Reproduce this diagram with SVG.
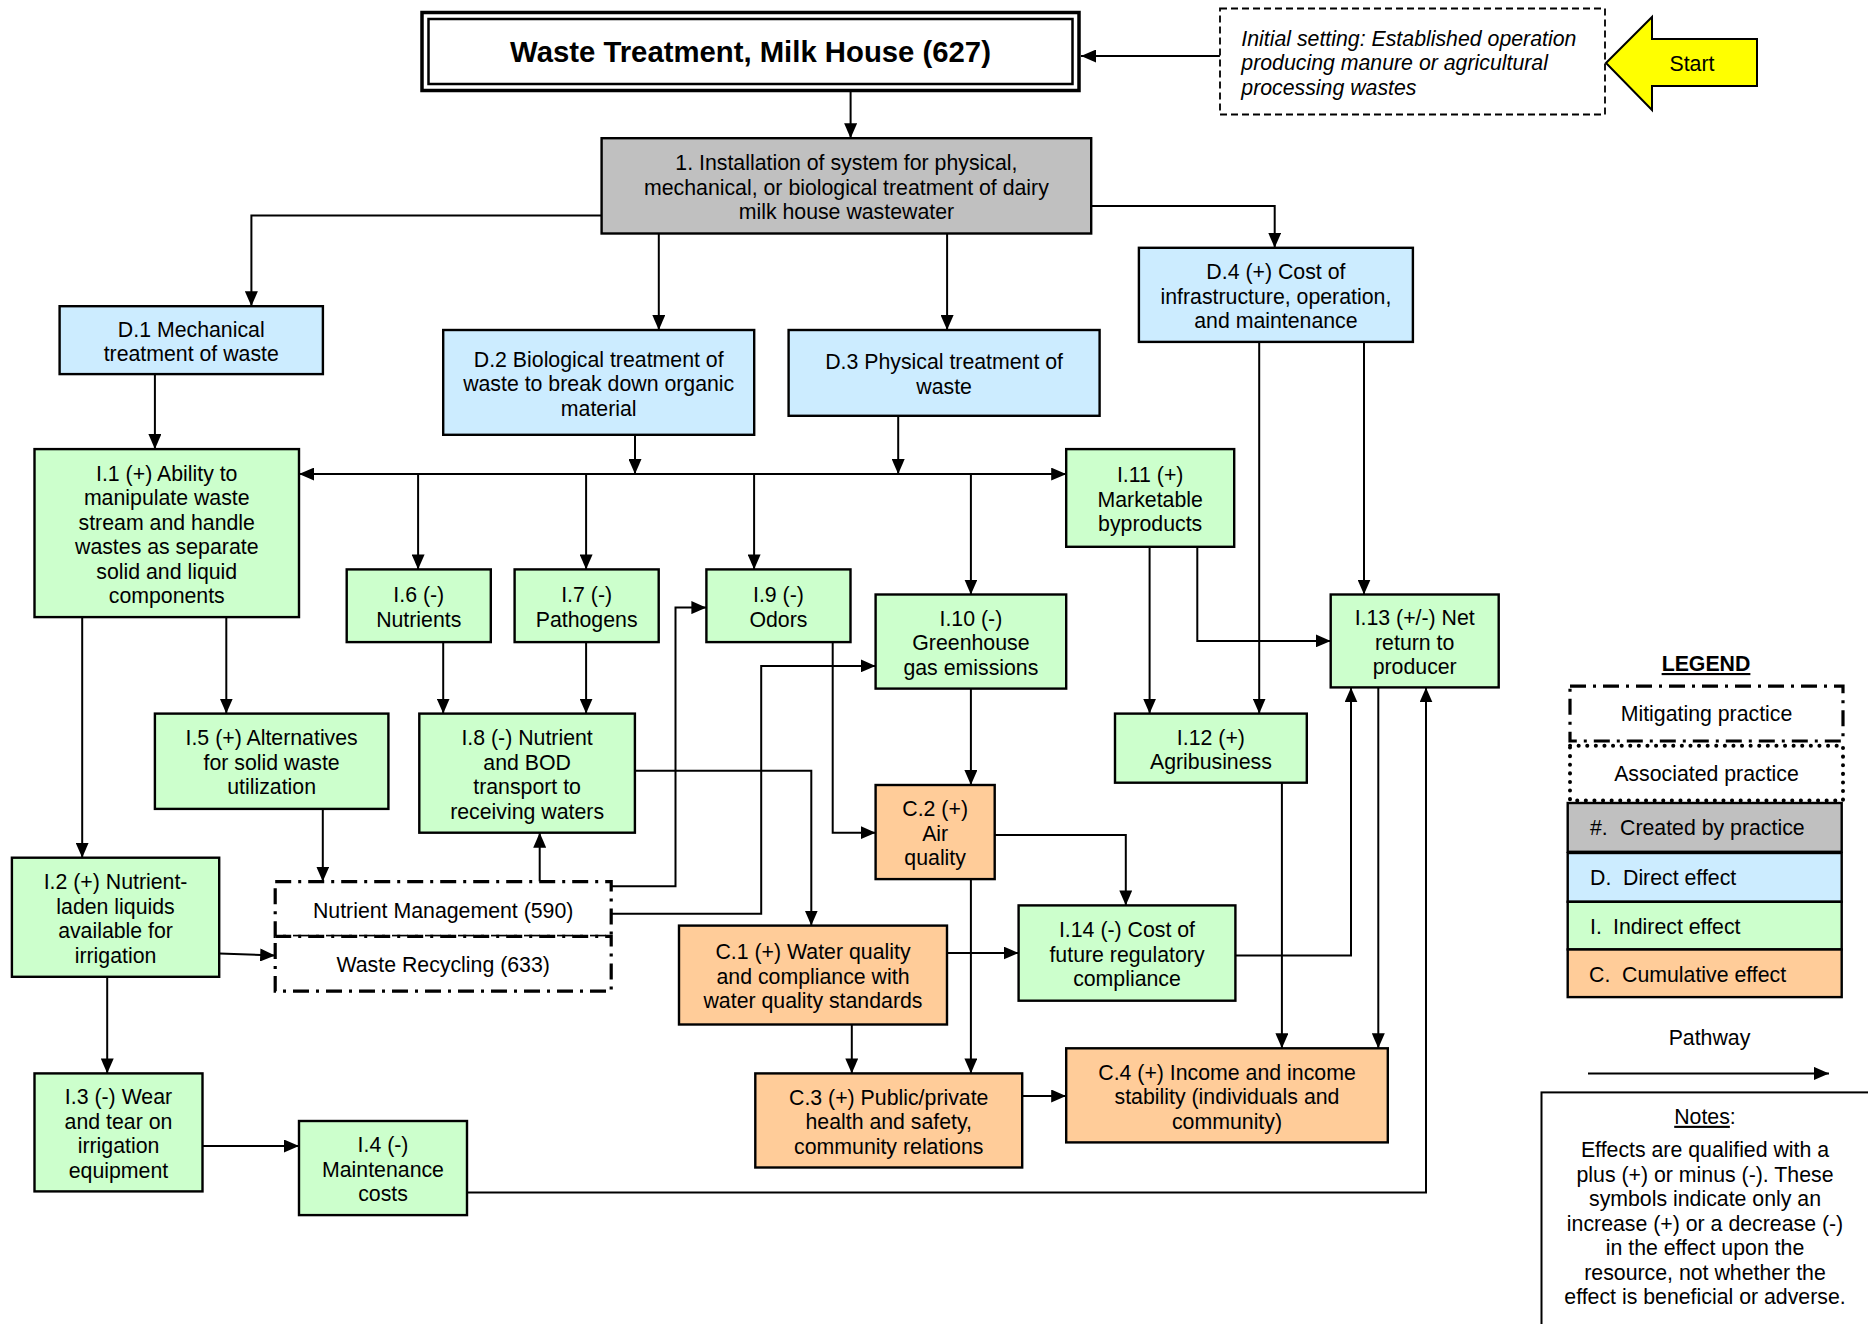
<svg xmlns="http://www.w3.org/2000/svg" width="1868" height="1324" viewBox="0 0 1868 1324">
<style>
.t{font-family:"Liberation Sans",Arial,sans-serif;font-size:21.3px;fill:#000;text-anchor:middle}
.tl{font-family:"Liberation Sans",Arial,sans-serif;font-size:21.3px;fill:#000}
.node text{transform:translateY(1.2px)}
.b{stroke:#000;stroke-width:2.4}
.gr{fill:#C0C0C0}.bl{fill:#CCECFF}.gn{fill:#CCFFCC}.or{fill:#FFCC99}
.ln{fill:none;stroke:#000;stroke-width:2;marker-end:url(#ah)}
.mit{fill:#fff;stroke:#000;stroke-width:3.2;stroke-dasharray:16 7 3 7}
.ass{fill:none;stroke:#000;stroke-width:4;stroke-dasharray:0.1 8.5;stroke-linecap:round}
</style>
<defs>
<marker id="ah" markerUnits="userSpaceOnUse" markerWidth="15" markerHeight="13" refX="15" refY="6.5" orient="auto">
<path d="M0,0 L15,6.5 L0,13 z" fill="#000"/>
</marker>
</defs>
<rect width="1868" height="1324" fill="#fff"/>

<g id="connectors">
<path class="ln" d="M1219.9 56 H1081"/>
<path class="ln" d="M850.6 91.7 V138.2"/>
<path class="ln" d="M601.6 215.6 H251.4 V306.2"/>
<path class="ln" d="M658.8 233.5 V330"/>
<path class="ln" d="M947.1 233.5 V330"/>
<path class="ln" d="M1091.2 206 H1274.7 V247.8"/>
<path class="ln" d="M154.9 374.1 V449.1"/>
<path class="ln" d="M635 434.8 V474.1"/>
<path class="ln" d="M898.2 415.8 V474.1"/>
<path class="ln" d="M898.2 474.1 H299"/>
<path class="ln" d="M635 474.1 H1066.2"/>
<path class="ln" d="M418.1 474.1 V569.4"/>
<path class="ln" d="M586.1 474.1 V569.4"/>
<path class="ln" d="M754.1 474.1 V569.4"/>
<path class="ln" d="M970.9 474.1 V594.5"/>
<path class="ln" d="M82.2 617.1 V857.7"/>
<path class="ln" d="M226.3 617.1 V713.6"/>
<path class="ln" d="M443.2 642.1 V713.6"/>
<path class="ln" d="M586.1 642.1 V713.6"/>
<path class="ln" d="M322.8 808.9 V881.6"/>
<path class="ln" d="M539.7 881.6 V832.7"/>
<path class="ln" d="M611.2 886.3 H675.5 V607.6 H706.4"/>
<path class="ln" d="M611.2 913.7 H761.2 V665.9 H875.6"/>
<path class="ln" d="M219.2 953.5 L275.2 955.5"/>
<path class="ln" d="M107.2 976.8 V1073.4"/>
<path class="ln" d="M202.5 1146 H299"/>
<path class="ln" d="M467 1192.5 H1426 V687.4"/>
<path class="ln" d="M634.9 770.8 H811.3 V925.6"/>
<path class="ln" d="M832.7 642.1 V832.7 H875.6"/>
<path class="ln" d="M970.9 688.6 V785"/>
<path class="ln" d="M994.7 835.1 H1125.8 V905.4"/>
<path class="ln" d="M970.9 879.1 V1073.4"/>
<path class="ln" d="M947 953 H1018.6"/>
<path class="ln" d="M851.8 1024.5 V1073.4"/>
<path class="ln" d="M1235.4 955.4 H1351 V687.4"/>
<path class="ln" d="M1281.9 782.7 V1048.3"/>
<path class="ln" d="M1378.3 687.4 V1048.3"/>
<path class="ln" d="M1022.2 1096 H1066.2"/>
<path class="ln" d="M1259.2 341.9 V713.6"/>
<path class="ln" d="M1364 341.9 V594.5"/>
<path class="ln" d="M1149.6 546.8 V713.6"/>
<path class="ln" d="M1197.3 546.8 V640.9 H1330.7"/>
</g>

<g id="title">
<rect x="422" y="12.5" width="657" height="78" fill="#fff" stroke="#000" stroke-width="3.5"/>
<rect x="428.5" y="19" width="644" height="65" fill="none" stroke="#000" stroke-width="2.5"/>
<text x="750.5" y="61.7" style="font-family:'Liberation Sans',Arial,sans-serif;font-size:29.3px;font-weight:bold;text-anchor:middle">Waste Treatment, Milk House (627)</text>
</g>

<g id="initial">
<rect x="1220" y="8.5" width="385" height="106" fill="#fff" stroke="#000" stroke-width="1.8" stroke-dasharray="7 4"/>
<text class="tl" x="1241.3" y="45.6" font-style="italic"><tspan x="1241.3">Initial setting: Established operation</tspan><tspan x="1241.3" dy="24.5">producing manure or agricultural</tspan><tspan x="1241.3" dy="24.5">processing wastes</tspan></text>
</g>

<g id="start">
<polygon points="1606,63 1652,17 1652,39 1757,39 1757,86 1652,86 1652,110" fill="#FFFF00" stroke="#000" stroke-width="2"/>
<text class="t" x="1692" y="70.5">Start</text>
</g>

<g id="n1" class="node">
<rect class="b gr" x="601.6" y="138.2" width="489.6" height="95.3"/>
<text class="t" x="846.4" y="168.85"><tspan x="846.4">1. Installation of system for physical,</tspan><tspan x="846.4" dy="24.5">mechanical, or biological treatment of dairy</tspan><tspan x="846.4" dy="24.5">milk house wastewater</tspan></text>
</g>

<g id="d1" class="node">
<rect class="b bl" x="59.6" y="306.2" width="263.3" height="67.9"/>
<text class="t" x="191.25" y="335.4"><tspan x="191.25">D.1 Mechanical</tspan><tspan x="191.25" dy="24.5">treatment of waste</tspan></text>
</g>
<g id="d2" class="node">
<rect class="b bl" x="443.2" y="330" width="311" height="104.8"/>
<text class="t" x="598.7" y="365.4"><tspan x="598.7">D.2 Biological treatment of</tspan><tspan x="598.7" dy="24.5">waste to break down organic</tspan><tspan x="598.7" dy="24.5">material</tspan></text>
</g>
<g id="d3" class="node">
<rect class="b bl" x="788.6" y="330" width="311" height="85.8"/>
<text class="t" x="944.1" y="368.15"><tspan x="944.1">D.3 Physical treatment of</tspan><tspan x="944.1" dy="24.5">waste</tspan></text>
</g>
<g id="d4" class="node">
<rect class="b bl" x="1138.9" y="247.8" width="274" height="94.1"/>
<text class="t" x="1275.9" y="277.85"><tspan x="1275.9">D.4 (+) Cost of</tspan><tspan x="1275.9" dy="24.5">infrastructure, operation,</tspan><tspan x="1275.9" dy="24.5">and maintenance</tspan></text>
</g>

<g id="i1" class="node">
<rect class="b gn" x="34.5" y="449.1" width="264.5" height="168"/>
<text class="t" x="166.75" y="479.35"><tspan x="166.75">I.1 (+) Ability to</tspan><tspan x="166.75" dy="24.5">manipulate waste</tspan><tspan x="166.75" dy="24.5">stream and handle</tspan><tspan x="166.75" dy="24.5">wastes as separate</tspan><tspan x="166.75" dy="24.5">solid and liquid</tspan><tspan x="166.75" dy="24.5">components</tspan></text>
</g>
<g id="i6" class="node">
<rect class="b gn" x="346.7" y="569.4" width="144.1" height="72.7"/>
<text class="t" x="418.75" y="601"><tspan x="418.75">I.6 (-)</tspan><tspan x="418.75" dy="24.5">Nutrients</tspan></text>
</g>
<g id="i7" class="node">
<rect class="b gn" x="514.6" y="569.4" width="144.1" height="72.7"/>
<text class="t" x="586.65" y="601"><tspan x="586.65">I.7 (-)</tspan><tspan x="586.65" dy="24.5">Pathogens</tspan></text>
</g>
<g id="i9" class="node">
<rect class="b gn" x="706.4" y="569.4" width="144.1" height="72.7"/>
<text class="t" x="778.45" y="601"><tspan x="778.45">I.9 (-)</tspan><tspan x="778.45" dy="24.5">Odors</tspan></text>
</g>
<g id="i10" class="node">
<rect class="b gn" x="875.6" y="594.5" width="190.6" height="94.1"/>
<text class="t" x="970.9" y="624.55"><tspan x="970.9">I.10 (-)</tspan><tspan x="970.9" dy="24.5">Greenhouse</tspan><tspan x="970.9" dy="24.5">gas emissions</tspan></text>
</g>
<g id="i11" class="node">
<rect class="b gn" x="1066.2" y="449.1" width="168" height="97.7"/>
<text class="t" x="1150.2" y="480.95"><tspan x="1150.2">I.11 (+)</tspan><tspan x="1150.2" dy="24.5">Marketable</tspan><tspan x="1150.2" dy="24.5">byproducts</tspan></text>
</g>
<g id="i13" class="node">
<rect class="b gn" x="1330.7" y="594.5" width="168" height="92.9"/>
<text class="t" x="1414.7" y="623.95"><tspan x="1414.7">I.13 (+/-) Net</tspan><tspan x="1414.7" dy="24.5">return to</tspan><tspan x="1414.7" dy="24.5">producer</tspan></text>
</g>
<g id="i12" class="node">
<rect class="b gn" x="1115" y="713.6" width="191.8" height="69.1"/>
<text class="t" x="1210.9" y="743.4"><tspan x="1210.9">I.12 (+)</tspan><tspan x="1210.9" dy="24.5">Agribusiness</tspan></text>
</g>
<g id="i5" class="node">
<rect class="b gn" x="154.9" y="713.6" width="233.5" height="95.3"/>
<text class="t" x="271.65" y="744.25"><tspan x="271.65">I.5 (+) Alternatives</tspan><tspan x="271.65" dy="24.5">for solid waste</tspan><tspan x="271.65" dy="24.5">utilization</tspan></text>
</g>
<g id="i8" class="node">
<rect class="b gn" x="419.3" y="713.6" width="215.6" height="119.1"/>
<text class="t" x="527.1" y="743.9"><tspan x="527.1">I.8 (-) Nutrient</tspan><tspan x="527.1" dy="24.5">and BOD</tspan><tspan x="527.1" dy="24.5">transport to</tspan><tspan x="527.1" dy="24.5">receiving waters</tspan></text>
</g>
<g id="i2" class="node">
<rect class="b gn" x="11.9" y="857.7" width="207.3" height="119.1"/>
<text class="t" x="115.55" y="888"><tspan x="115.55">I.2 (+) Nutrient-</tspan><tspan x="115.55" dy="24.5">laden liquids</tspan><tspan x="115.55" dy="24.5">available for</tspan><tspan x="115.55" dy="24.5">irrigation</tspan></text>
</g>
<g id="nm590" class="node">
<rect class="mit" x="275.2" y="881.6" width="336" height="54.8"/>
<text class="t" x="443.2" y="916.5">Nutrient Management (590)</text>
</g>
<g id="wr633" class="node">
<rect class="mit" x="275.2" y="936.4" width="336" height="54.8"/>
<text class="t" x="443.2" y="970.7">Waste Recycling (633)</text>
</g>
<g id="i3" class="node">
<rect class="b gn" x="34.5" y="1073.4" width="168" height="118"/>
<text class="t" x="118.5" y="1103.15"><tspan x="118.5">I.3 (-) Wear</tspan><tspan x="118.5" dy="24.5">and tear on</tspan><tspan x="118.5" dy="24.5">irrigation</tspan><tspan x="118.5" dy="24.5">equipment</tspan></text>
</g>
<g id="i4" class="node">
<rect class="b gn" x="299" y="1121" width="168" height="94.1"/>
<text class="t" x="383" y="1151.05"><tspan x="383">I.4 (-)</tspan><tspan x="383" dy="24.5">Maintenance</tspan><tspan x="383" dy="24.5">costs</tspan></text>
</g>
<g id="c2" class="node">
<rect class="b or" x="875.6" y="785" width="119.1" height="94.1"/>
<text class="t" x="935.15" y="815.05"><tspan x="935.15">C.2 (+)</tspan><tspan x="935.15" dy="24.5">Air</tspan><tspan x="935.15" dy="24.5">quality</tspan></text>
</g>
<g id="c1" class="node">
<rect class="b or" x="679" y="925.6" width="268" height="98.9"/>
<text class="t" x="813" y="958.05"><tspan x="813">C.1 (+) Water quality</tspan><tspan x="813" dy="24.5">and compliance with</tspan><tspan x="813" dy="24.5">water quality standards</tspan></text>
</g>
<g id="i14" class="node">
<rect class="b gn" x="1018.6" y="905.4" width="216.8" height="95.3"/>
<text class="t" x="1127" y="936.05"><tspan x="1127">I.14 (-) Cost of</tspan><tspan x="1127" dy="24.5">future regulatory</tspan><tspan x="1127" dy="24.5">compliance</tspan></text>
</g>
<g id="c3" class="node">
<rect class="b or" x="755.3" y="1073.4" width="266.9" height="94.1"/>
<text class="t" x="888.75" y="1103.45"><tspan x="888.75">C.3 (+) Public/private</tspan><tspan x="888.75" dy="24.5">health and safety,</tspan><tspan x="888.75" dy="24.5">community relations</tspan></text>
</g>
<g id="c4" class="node">
<rect class="b or" x="1066.2" y="1048.3" width="321.6" height="94.1"/>
<text class="t" x="1227" y="1078.35"><tspan x="1227">C.4 (+) Income and income</tspan><tspan x="1227" dy="24.5">stability (individuals and</tspan><tspan x="1227" dy="24.5">community)</tspan></text>
</g>

<g id="legend">
<text x="1706" y="671" style="font-family:'Liberation Sans',Arial,sans-serif;font-size:21.3px;font-weight:bold;text-anchor:middle;text-decoration:underline">LEGEND</text>
<rect class="mit" x="1570" y="686.2" width="273" height="54.8"/>
<text class="t" x="1706.5" y="721">Mitigating practice</text>
<rect class="ass" x="1570" y="745.8" width="273" height="54.7"/>
<text class="t" x="1706.5" y="780.7">Associated practice</text>
<rect class="b gr" x="1567.7" y="803" width="274" height="48.8"/>
<text class="tl" x="1590" y="834.5">#.</text><text class="tl" x="1620" y="834.5">Created by practice</text>
<rect class="b bl" x="1567.7" y="853" width="274" height="48.8"/>
<text class="tl" x="1590" y="884.5">D.</text><text class="tl" x="1623" y="884.5">Direct effect</text>
<rect class="b gn" x="1567.7" y="901.8" width="274" height="47.6"/>
<text class="tl" x="1590" y="933.5">I.</text><text class="tl" x="1613" y="933.5">Indirect effect</text>
<rect class="b or" x="1567.7" y="949.5" width="274" height="47.6"/>
<text class="tl" x="1589" y="981.5">C.</text><text class="tl" x="1622" y="981.5">Cumulative effect</text>
<text class="t" x="1709.5" y="1045">Pathway</text>
<path class="ln" d="M1588 1073.4 H1829"/>
</g>

<g id="notes">
<rect x="1541.5" y="1092.4" width="340" height="250" fill="#fff" stroke="#000" stroke-width="2"/>
<text class="t" x="1705" y="1123.8"><tspan text-decoration="underline">Notes</tspan>:</text>
<text class="t" x="1705" y="1157.1"><tspan x="1705">Effects are qualified with a</tspan><tspan x="1705" dy="24.5">plus (+) or minus (-). These</tspan><tspan x="1705" dy="24.5">symbols indicate only an</tspan><tspan x="1705" dy="24.5">increase (+) or a decrease (-)</tspan><tspan x="1705" dy="24.5">in the effect upon the</tspan><tspan x="1705" dy="24.5">resource, not whether the</tspan><tspan x="1705" dy="24.5">effect is beneficial or adverse.</tspan></text>
</g>
</svg>
